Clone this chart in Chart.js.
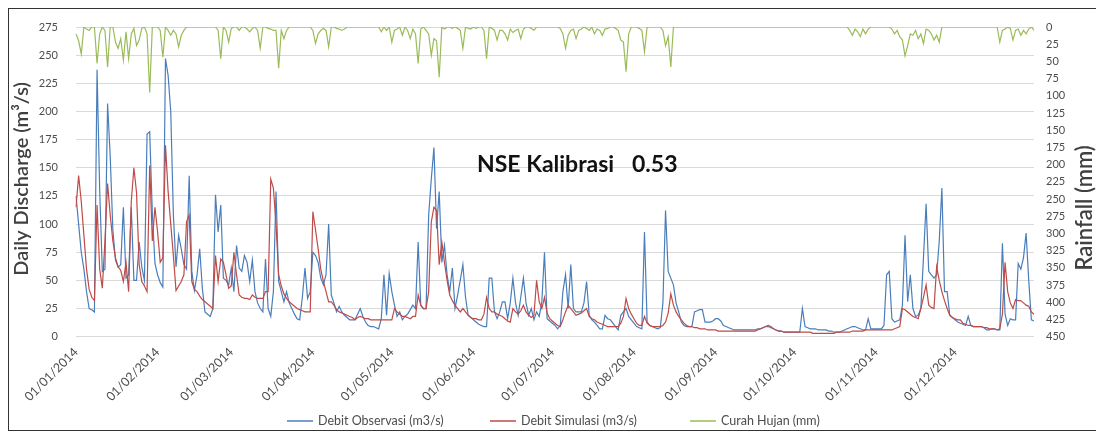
<!DOCTYPE html>
<html>
<head>
<meta charset="utf-8">
<script src="https://cdn.jsdelivr.net/npm/chart.js@4.4.0/dist/chart.umd.min.js"></script>
<style>
  html, body { margin: 0; padding: 0; background: #fff; }
  #wrap { position: relative; width: 1096px; height: 432px; overflow: hidden; }
  #frame { position: absolute; left: 8px; top: 8px; width: 1100px; height: 421px; border: 1px solid #333; }
  canvas { position: absolute; left: 0; top: 0; }
</style>
</head>
<body>
<div id="wrap">
  <div id="frame"></div>
  <canvas id="chart" width="1096" height="432"></canvas>
</div>
<script>
// daily data, 2014 (one row per month)
const monthDays = [31, 28, 31, 30, 31, 30, 31, 31, 30, 31, 30, 31];

const observed = [
  125, 100, 75, 60, 40, 25, 24, 22, 237, 130, 58, 60, 207, 160, 95, 68, 62, 64, 115, 52, 55, 115, 50, 50, 84, 62, 50, 180, 182, 110, 65,
  55, 48, 44, 247, 232, 200, 108, 62, 90, 78, 64, 60, 143, 58, 41, 55, 78, 43, 22, 20, 18, 25, 126, 93, 117, 52, 50, 46,
  61, 40, 81, 61, 58, 72, 66, 49, 68, 40, 30, 25, 22, 69, 25, 18, 40, 129, 49, 40, 31, 40, 30, 25, 20, 16, 15, 35, 61, 34, 40,
  75, 72, 66, 52, 46, 55, 100, 37, 30, 22, 27, 22, 19, 17, 15, 15, 15, 20, 25, 18, 13, 10, 9, 9, 8, 7, 16, 55, 19, 56,
  40, 28, 18, 22, 15, 18, 20, 24, 28, 25, 84, 28, 25, 25, 108, 140, 168, 96, 129, 66, 81, 55, 40, 61, 25, 37, 50, 64, 35, 19, 17,
  15, 13, 11, 10, 9, 9, 52, 52, 22, 16, 22, 31, 31, 16, 30, 52, 30, 19, 35, 52, 30, 19, 25, 15, 22, 18, 31, 75, 16, 14,
  12, 10, 7, 10, 40, 55, 25, 64, 25, 22, 22, 22, 30, 49, 19, 15, 13, 10, 7, 7, 19, 16, 15, 12, 9, 6, 19, 22, 25, 18, 15,
  12, 9, 8, 7, 93, 13, 10, 9, 8, 7, 8, 30, 112, 58, 52, 46, 30, 22, 13, 10, 9, 9, 9, 22, 23, 24, 24, 13, 13, 13, 14,
  16, 16, 14, 10, 9, 8, 7, 6, 6, 6, 6, 6, 6, 6, 6, 6, 7, 7, 8, 9, 9, 8, 7, 6, 5, 5, 4, 4, 4, 4,
  4, 4, 4, 25, 9, 8, 7, 7, 7, 6, 6, 6, 6, 5, 5, 4, 4, 4, 5, 6, 7, 8, 9, 9, 8, 7, 6, 6, 16, 7, 7,
  7, 7, 7, 10, 55, 58, 16, 13, 14, 15, 28, 90, 31, 55, 25, 18, 19, 25, 70, 118, 58, 55, 52, 55, 85, 132, 40, 40, 19, 17,
  15, 13, 12, 11, 10, 18, 10, 9, 9, 9, 9, 8, 6, 6, 7, 7, 6, 6, 83, 20, 10, 16, 15, 15, 65, 60, 70, 92, 50, 15, 14
];

const simulated = [
  115, 143, 120, 90, 60, 42, 35, 32, 117, 60, 43, 85, 136, 108, 85, 70, 62, 59, 49, 66, 40, 120, 150, 128, 64, 49, 45, 40, 152, 85, 115,
  93, 66, 70, 170, 129, 100, 72, 41, 45, 49, 55, 102, 108, 49, 42, 40, 36, 33, 31, 29, 27, 25, 72, 49, 69, 66, 55, 43,
  45, 75, 55, 37, 35, 34, 34, 33, 37, 35, 34, 34, 34, 40, 40, 140, 132, 100, 55, 45, 38, 34, 31, 29, 27, 25, 24, 23, 22, 22, 22,
  111, 95, 78, 60, 49, 40, 31, 31, 28, 24, 22, 21, 20, 19, 18, 17, 15, 17, 18, 17, 16, 16, 15, 15, 15, 15, 15, 15, 15, 15,
  15, 25, 22, 20, 18, 18, 17, 16, 18, 18, 37, 28, 25, 25, 40, 102, 115, 112, 64, 84, 66, 50, 37, 32, 28, 25, 22, 25, 22, 19, 17,
  16, 16, 15, 15, 20, 35, 25, 22, 22, 20, 19, 18, 16, 14, 13, 25, 22, 20, 23, 28, 22, 19, 17, 19, 50, 31, 25, 35, 21, 16,
  14, 12, 10, 9, 15, 22, 28, 25, 22, 19, 20, 21, 23, 25, 18, 16, 15, 13, 12, 11, 10, 9, 9, 9, 9, 9, 12, 18, 34, 25, 20,
  16, 12, 10, 10, 18, 12, 10, 9, 9, 9, 9, 10, 13, 21, 38, 28, 22, 18, 15, 12, 10, 9, 9, 8, 8, 7, 7, 7, 6, 6, 6,
  6, 5, 5, 5, 5, 5, 5, 5, 5, 5, 5, 5, 5, 5, 5, 5, 6, 7, 8, 9, 10, 9, 7, 6, 5, 5, 4, 4, 4, 4,
  4, 4, 4, 4, 4, 4, 4, 3, 3, 3, 3, 3, 3, 3, 3, 3, 4, 4, 4, 4, 4, 4, 5, 5, 5, 5, 5, 6, 6, 6, 6,
  6, 6, 6, 6, 6, 6, 6, 7, 8, 9, 25, 24, 22, 20, 18, 17, 16, 25, 35, 46, 28, 26, 25, 62, 50, 40, 32, 25, 19, 17,
  16, 15, 15, 12, 11, 10, 10, 9, 9, 9, 9, 8, 8, 7, 7, 7, 6, 7, 20, 66, 40, 30, 25, 33, 32, 32, 30, 28, 27, 22, 20
];

const rainfall = [
  10, 20, 39, 0, 3, 5, 0, 0, 53, 10, 0, 5, 58, 0, 0, 22, 31, 17, 48, 7, 46, 10, 2, 27, 19, 2, 0, 10, 95, 0, 0,
  0, 5, 44, 0, 5, 12, 5, 10, 29, 12, 5, 0, 0, 0, 0, 0, 0, 0, 0, 0, 0, 0, 0, 5, 46, 0, 5, 22,
  2, 0, 0, 5, 0, 0, 3, 7, 2, 0, 5, 31, 0, 0, 2, 3, 5, 5, 60, 5, 17, 5, 0, 0, 0, 0, 0, 0, 0, 0, 0,
  5, 24, 10, 5, 2, 5, 29, 0, 0, 2, 3, 5, 3, 0, 0, 0, 0, 0, 0, 0, 0, 0, 0, 0, 0, 0, 7, 0, 5, 0,
  22, 5, 3, 0, 12, 0, 5, 17, 3, 10, 53, 3, 0, 5, 10, 41, 17, 20, 73, 0, 3, 0, 0, 2, 0, 2, 5, 31, 0, 2, 3,
  0, 2, 0, 0, 5, 46, 0, 2, 5, 19, 5, 5, 10, 19, 3, 8, 5, 3, 17, 3, 0, 0, 2, 5, 0, 0, 0, 0, 0, 0,
  0, 0, 0, 2, 10, 31, 12, 5, 3, 17, 5, 3, 0, 2, 5, 0, 10, 3, 5, 12, 3, 2, 0, 0, 2, 5, 19, 22, 65, 10, 0,
  0, 0, 2, 5, 36, 0, 0, 0, 0, 0, 0, 5, 27, 14, 58, 0, 0, 0, 0, 0, 0, 0, 0, 0, 0, 0, 0, 0, 0, 0, 0,
  0, 0, 0, 0, 0, 0, 0, 0, 0, 0, 0, 0, 0, 0, 0, 0, 0, 0, 0, 0, 0, 0, 0, 0, 0, 0, 0, 0, 0, 0,
  0, 0, 0, 0, 0, 0, 0, 0, 0, 0, 0, 0, 0, 0, 0, 0, 0, 0, 0, 0, 0, 5, 12, 3, 7, 14, 3, 10, 3, 0, 0,
  0, 0, 0, 0, 0, 0, 3, 10, 5, 14, 19, 42, 27, 10, 12, 5, 17, 10, 24, 3, 5, 10, 19, 12, 22, 0, 0, 0, 0, 0,
  0, 0, 0, 0, 0, 0, 0, 0, 0, 0, 0, 0, 0, 0, 0, 0, 0, 22, 5, 3, 0, 2, 19, 5, 3, 12, 5, 10, 3, 0, 5
];

const seriesNames = ['Debit Observasi (m3/s)', 'Debit Simulasi (m3/s)', 'Curah Hujan (mm)'];
const seriesColors = ['#4a7ebb', '#be4b48', '#9bbb59'];
const leftTitle = 'Daily Discharge (m\u00b3/s)';
const rightTitle = 'Rainfall (mm)';
const noteLabel = 'NSE Kalibrasi';
const noteValue = '0.53';

// dd/mm/2014 labels
const pad = n => (n < 10 ? '0' : '') + n;
const dates = [];
monthDays.forEach((n, m) => {
  for (let d = 1; d <= n; d++) dates.push(pad(d) + '/' + pad(m + 1) + '/2014');
});

Chart.defaults.font.family = 'Lato';
Chart.defaults.color = '#4d4d4d';

const extras = {
  id: 'extras',
  afterDraw(chart) {
    const ctx = chart.ctx;
    const area = chart.chartArea;
    ctx.save();
    ctx.fillStyle = '#404040';
    ctx.textAlign = 'center';
    ctx.textBaseline = 'middle';

    // axis titles
    ctx.font = '600 20px Lato';
    ctx.save();
    ctx.translate(22, (area.top + area.bottom) / 2 - 3);
    ctx.rotate(-Math.PI / 2);
    ctx.fillText(leftTitle, 0, 0);
    ctx.restore();

    ctx.font = '600 22px Lato';
    ctx.save();
    ctx.translate(1085, (area.top + area.bottom) / 2 + 26);
    ctx.rotate(-Math.PI / 2);
    ctx.fillText(rightTitle, 0, 0);
    ctx.restore();

    // NSE note
    ctx.fillStyle = '#111';
    ctx.font = 'bold 23px Lato';
    ctx.textAlign = 'left';
    ctx.textBaseline = 'alphabetic';
    ctx.fillText(noteLabel, 477, 172);
    ctx.fillText(noteValue, 632, 172);

    // legend
    ctx.font = '12.5px Lato';
    ctx.textBaseline = 'middle';
    const sample = 26, gap = 5;
    const starts = [287, 490, 690];
    const y = 421;
    chart.data.datasets.forEach((ds, i) => {
      const x = starts[i];
      ctx.strokeStyle = ds.borderColor;
      ctx.lineWidth = 1.5;
      ctx.beginPath();
      ctx.moveTo(x, y);
      ctx.lineTo(x + sample, y);
      ctx.stroke();
      ctx.fillStyle = '#4d4d4d';
      ctx.fillText(ds.label, x + sample + gap, y);
    });
    ctx.restore();
  }
};

new Chart(document.getElementById('chart'), {
  type: 'line',
  data: {
    labels: dates,
    datasets: [
      { label: seriesNames[0], data: observed, yAxisID: 'y', borderColor: seriesColors[0], borderWidth: 1.2, order: 3 },
      { label: seriesNames[1], data: simulated, yAxisID: 'y', borderColor: seriesColors[1], borderWidth: 1.2, order: 2 },
      { label: seriesNames[2], data: rainfall, yAxisID: 'y2', borderColor: seriesColors[2], borderWidth: 1.2, order: 1 }
    ]
  },
  options: {
    responsive: false,
    animation: false,
    devicePixelRatio: 1,
    elements: { point: { radius: 0 }, line: { tension: 0 } },
    layout: { padding: { top: 27, left: 0, right: 0, bottom: 0 } },
    plugins: { legend: { display: false }, tooltip: { enabled: false } },
    scales: {
      x: {
        grid: { display: false, drawTicks: false },
        border: { display: false },
        ticks: {
          autoSkip: false, minRotation: 45, maxRotation: 45, padding: 8,
          font: { size: 12.5 },
          callback: (v, i) => (dates[i].startsWith('01/') ? dates[i] : null)
        },
        afterFit: s => { s.height = 95.3; }
      },
      y: {
        position: 'left', min: 0, max: 275,
        ticks: { stepSize: 25, padding: 18, font: { size: 11 } },
        grid: { color: '#d9d9d9', drawTicks: false },
        border: { display: false },
        afterFit: s => { s.width = 76; }
      },
      y2: {
        position: 'right', min: 0, max: 450, reverse: true,
        ticks: { stepSize: 25, padding: 12, font: { size: 11 } },
        grid: { display: false, drawTicks: false },
        border: { display: false },
        afterFit: s => { s.width = 62; }
      }
    }
  },
  plugins: [extras]
});
</script>
</body>
</html>
